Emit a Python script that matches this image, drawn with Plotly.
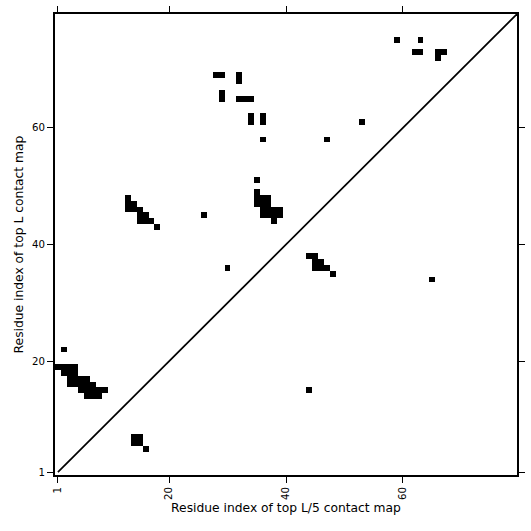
import plotly.graph_objects as go

L = 79  # number of residues

# Contacts of the top-L map (upper-left triangle): residue i (x), residue j (y)
top_L_i = [28, 29, 32, 32, 29, 29, 32, 33, 34, 34, 34, 36, 36, 36, 47,
           59, 63, 62, 63, 66, 67, 66, 53,
           35, 35, 35, 35, 36, 36, 36, 36, 37, 37, 37, 37, 38, 38, 39, 39, 38,
           26, 30,
           13, 13, 13, 14, 14, 15, 15, 15, 16, 16, 17, 18,
           2, 1, 2, 3, 4, 2, 3, 4, 3, 4, 5, 6, 3, 4, 5, 6, 7, 5, 6, 7, 8, 9, 6, 7, 8]
top_L_j = [69, 69, 69, 68, 66, 65, 65, 65, 65, 62, 61, 62, 61, 58, 58,
           75, 75, 73, 73, 73, 73, 72, 61,
           51, 49, 48, 47, 48, 47, 46, 45, 48, 47, 46, 45, 46, 45, 46, 45, 44,
           45, 36,
           48, 47, 46, 47, 46, 46, 45, 44, 45, 44, 44, 43,
           22, 19, 19, 19, 19, 18, 18, 18, 17, 17, 17, 17, 16, 16, 16, 16, 16, 15, 15, 15, 15, 15, 14, 14, 14]

# Contacts of the top-L/5 map (lower-right triangle)
top_L5_i = [14, 15, 14, 15, 16, 44, 44, 45, 45, 46, 45, 46, 47, 48, 65]
top_L5_j = [7, 7, 6, 6, 5, 15, 38, 38, 37, 37, 36, 36, 36, 35, 34]

tick_vals = [1, 20, 40, 60]
tick_text = ["1", "20", "40", "60"]

residues = list(range(1, L + 1))
z = [[None] * L for _ in range(L)]
for i, j in zip(top_L_i + top_L5_i, top_L_j + top_L5_j):
    z[j - 1][i - 1] = 1

fig = go.Figure()
fig.add_trace(go.Heatmap(
    x=residues, y=residues, z=z,
    colorscale=[[0, "black"], [1, "black"]], zmin=0, zmax=1,
    showscale=False, hoverongaps=False,
))
fig.add_trace(go.Scatter(
    x=[1, L + 1], y=[1, L + 1], mode="lines",
    line=dict(color="black", width=1.7), showlegend=False,
))

font = "DejaVu Sans"
axis_common = dict(
    range=[0.5, L + 0.5],
    tickmode="array", tickvals=tick_vals, ticktext=tick_text,
    ticks="outside", ticklen=6, tickwidth=1, tickcolor="black",
    showline=True, linewidth=2, linecolor="black", mirror="ticks",
    showgrid=False, zeroline=False, automargin=False,
    tickfont=dict(family=font, size=10.2, color="black"),
)

fig.update_layout(
    width=531, height=531,
    margin=dict(l=55, r=14, t=14, b=56),
    plot_bgcolor="white", paper_bgcolor="white",
    showlegend=False,
    xaxis=dict(**axis_common, tickangle=-90,
               title=dict(text="Residue index of top L/5 contact map",
                          font=dict(family=font, size=12.3, color="black"),
                          standoff=4)),
    yaxis=dict(**axis_common,
               title=dict(text="Residue index of top L contact map",
                          font=dict(family=font, size=12.3, color="black"),
                          standoff=6)),
)

fig.write_html("out.html", config={"displayModeBar": False},
               post_script="document.body.style.margin='0';")
